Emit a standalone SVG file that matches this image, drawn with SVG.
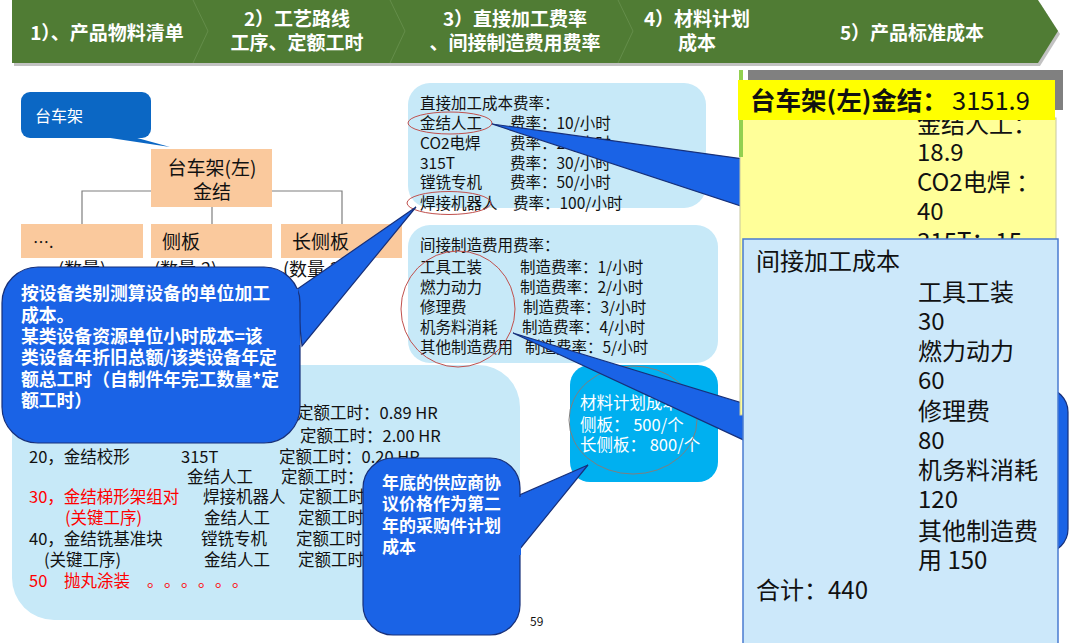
<svg xmlns="http://www.w3.org/2000/svg" width="1080" height="643" viewBox="0 0 1080 643">
<defs>
<style>
text{font-family:"Noto Sans CJK SC","Noto Sans",sans-serif;fill:#111}
.hd{fill:#fff;font-size:19px;font-weight:bold;text-anchor:middle}
.lbox{fill:#C7E9F8}
.org{fill:#FAC99D}
.tree{stroke:#7F7F7F;stroke-width:1.2;fill:none}
.t15{font-size:15.5px}
.t16{font-size:16.5px}
.t18{font-size:18px}
.red{fill:#FF0000}
.wb{fill:#fff;font-weight:bold}
.co{fill:#1A63E6;stroke:#17307A;stroke-width:1.2}
.cof{fill:#1A63E6}
.big{font-size:24px}
.rell{fill:none;stroke:#C0504D;stroke-width:1}
</style>
</defs>

<g id="header">
<path d="M14,3 H1040 L1060,34 L1040,66 H14 Z" fill="#9A9A9A" opacity="0.6"/>
<path d="M12,0 H1038 L1058,31 L1038,63 H12 Z" fill="#507C34"/>
<path d="M193,0 L208,31 L193,63 M390,0 L405,31 L390,63 M618,0 L633,31 L618,63" stroke="#6C9452" stroke-width="1" fill="none" opacity="0.7"/>
<text class="hd" x="107" y="40">1）、产品物料清单</text>
<text class="hd" x="297" y="26">2）工艺路线</text>
<text class="hd" x="297" y="50">工序、定额工时</text>
<text class="hd" x="515" y="26">3）直接加工费率</text>
<text class="hd" x="515" y="50">、间接制造费用费率</text>
<text class="hd" x="697" y="26">4）材料计划</text>
<text class="hd" x="697" y="50">成本</text>
<text class="hd" x="912" y="40">5）产品标准成本</text>
</g>

<g id="callout-taichejia">
<path d="M97,136 L130,136 L170,147 Z" fill="#0B67C4"/>
<rect x="21" y="92" width="130" height="46" rx="9" fill="#0B67C4"/>
<text x="35" y="122" style="fill:#fff;font-size:16px">台车架</text>
</g>

<g id="connectors">
<path class="tree" d="M82,224 V191 H342 V224 M212,207 V224"/>
</g>

<g id="node-root">
<rect class="org" x="151" y="149" width="121" height="58"/>
<text x="212" y="175" text-anchor="middle" style="font-size:19px">台车架(左)</text>
<text x="212" y="199" text-anchor="middle" style="font-size:19px">金结</text>
</g>
<g id="node-dots">
<rect class="org" x="21" y="224" width="122" height="34"/>
<text x="33" y="248" style="font-size:16px">….</text>
<text x="58" y="276" class="t18">(数量)</text>
</g>
<g id="node-cebang">
<rect class="org" x="151" y="224" width="121" height="34"/>
<text x="162" y="249" style="font-size:19px">侧板</text>
<text x="154" y="276" class="t18">(数量,2)</text>
</g>
<g id="node-changcebang">
<rect class="org" x="281" y="224" width="121" height="34"/>
<text x="292" y="249" style="font-size:19px">长侧板</text>
<text x="283" y="276" class="t18">(数量,2)</text>
</g>

<g id="process-table">
<rect class="lbox" x="12" y="365" width="508" height="255" rx="42"/>
<g class="t16">
<text x="297" y="419">定额工时：0.89 HR</text>
<text x="300" y="442">定额工时：2.00 HR</text>
<text x="29" y="463">20，金结校形</text><text x="181" y="463">315T</text><text x="279" y="463">定额工时：0.20 HR</text>
<text x="187" y="483">金结人工</text><text x="281" y="483">定额工时：</text>
<text x="29" y="503" class="red">30，金结梯形架组对</text><text x="203" y="503">焊接机器人</text><text x="299" y="503">定额工时：</text>
<text x="65" y="524" class="red">(关键工序)</text><text x="204" y="524">金结人工</text><text x="298" y="524">定额工时：</text>
<text x="29" y="545">40，金结铣基准块</text><text x="201" y="545">镗铣专机</text><text x="296" y="545">定额工时：</text>
<text x="44" y="566">(关键工序)</text><text x="204" y="566">金结人工</text><text x="298" y="566">定额工时：</text>
<text x="29" y="587" class="red">50</text><text x="64" y="587" class="red">抛丸涂装</text><text x="147 164 181 198 215 232" y="587" class="red">。。。。。。</text>
</g>
</g>

<g id="direct-rate">
<rect class="lbox" x="408" y="83" width="298" height="125" rx="22"/>
<g class="t15">
<text x="420" y="109">直接加工成本费率：</text>
<text x="420" y="129">金结人工</text><text x="510" y="129">费率：10/小时</text>
<text x="420" y="149">CO2电焊</text><text x="510" y="149">费率：20/小时</text>
<text x="420" y="169">315T</text><text x="510" y="169">费率：30/小时</text>
<text x="420" y="188">镗铣专机</text><text x="510" y="188">费率：50/小时</text>
<text x="420" y="209">焊接机器人</text><text x="513" y="209">费率：100/小时</text>
</g>
<ellipse class="rell" cx="450" cy="123" rx="42" ry="11"/>
<ellipse class="rell" cx="449" cy="203" rx="42" ry="11.5"/>
</g>

<g id="indirect-rate">
<rect class="lbox" x="408" y="225" width="310" height="138" rx="22"/>
<g class="t15">
<text x="420" y="251">间接制造费用费率：</text>
<text x="420" y="273">工具工装</text><text x="520" y="273">制造费率：1/小时</text>
<text x="420" y="293">燃力动力</text><text x="520" y="293">制造费率：2/小时</text>
<text x="420" y="313">修理费</text><text x="523" y="313">制造费率：3/小时</text>
<text x="420" y="333">机务料消耗</text><text x="522" y="333">制造费率：4/小时</text>
<text x="420" y="353">其他制造费用</text><text x="525" y="353">制造费率：5/小时</text>
</g>
<ellipse class="rell" cx="458" cy="309" rx="57" ry="58"/>
</g>

<g id="material-cost">
<rect x="570" y="365" width="148" height="117" rx="20" fill="#00B0F0"/>
<text x="580" y="409" style="fill:#fff;font-size:16.5px">材料计划成本：</text>
<text x="580" y="431" style="fill:#fff;font-size:16.5px">侧板：  500/个</text>
<text x="580" y="451" style="fill:#fff;font-size:16.5px">长侧板：  800/个</text>
<ellipse cx="633" cy="420" rx="64" ry="54" fill="none" stroke="#7F7F7F" stroke-width="1"/>
</g>

<text x="530" y="626" style="font-size:12px">59</text>

<g id="callout-left">
<path class="co" d="M296,290 L416,207 L302,346 Z"/>
<rect class="co" x="2" y="267" width="298" height="176" rx="36"/>
<path class="cof" d="M290,289 L298,289 L300,345 L290,345 Z"/>
<g class="wb" style="font-size:17.8px">
<text x="21" y="300" class="wb">按设备类别测算设备的单位加工</text>
<text x="21" y="322" class="wb">成本。</text>
<text x="21" y="343" class="wb">某类设备资源单位小时成本=该</text>
<text x="21" y="364" class="wb">类设备年折旧总额/该类设备年定</text>
<text x="21" y="386" class="wb">额总工时（自制件年完工数量*定</text>
<text x="21" y="407" class="wb">额工时）</text>
</g>
</g>

<g id="callout-supplier">
<path class="co" d="M588,465 L515,497 L515,555 Z"/>
<rect class="co" x="363" y="458" width="157" height="177" rx="30"/>
<path class="cof" d="M510,497 L521,497 L521,555 L510,555 Z"/>
<g style="font-size:17px">
<text x="382" y="489" class="wb">年底的供应商协</text>
<text x="382" y="510" class="wb">议价格作为第二</text>
<text x="382" y="532" class="wb">年的采购件计划</text>
<text x="382" y="553" class="wb">成本</text>
</g>
</g>

<g id="callout-tails">
<path class="co" d="M492,124 L765,162 L765,214 Z"/>
<path class="co" d="M513,333 L765,410 L765,450 Z"/>
<rect class="co" x="860" y="388" width="208" height="165" rx="24"/>
</g>

<g id="total-cost">
<rect x="748" y="70" width="315" height="40" fill="#808080"/>
<rect x="740" y="118" width="316" height="297" fill="#FFFF99" stroke="#C8C8A0" stroke-width="1"/>
<rect x="739" y="70" width="4" height="87" fill="#92D050"/>
<g class="big">
<text x="917" y="133">金结人工：</text>
<text x="917" y="161">18.9</text>
<text x="917" y="191">CO2电焊 ：</text>
<text x="917" y="220">40</text>
<text x="917" y="250">315T：15</text>
</g>
<rect x="738" y="80" width="317" height="40" fill="#FFFF00"/>
<text x="750" y="110" style="font-size:25.5px;font-weight:bold">台车架(左)金结：</text>
<text x="952" y="110" style="font-size:25.5px">3151.9</text>
</g>

<g id="indirect-cost">
<rect x="743" y="239" width="315" height="410" fill="#CCE8FA" stroke="#4A7BD0" stroke-width="1.5"/>
<g class="big">
<text x="756" y="270">间接加工成本</text>
<text x="918" y="301">工具工装</text>
<text x="918" y="330">30</text>
<text x="918" y="360">燃力动力</text>
<text x="918" y="389">60</text>
<text x="918" y="420">修理费</text>
<text x="918" y="449">80</text>
<text x="918" y="479">机务料消耗</text>
<text x="918" y="508">120</text>
<text x="918" y="540">其他制造费</text>
<text x="918" y="569">用 150</text>
<text x="756" y="599">合计：440</text>
</g>
</g>
</svg>
